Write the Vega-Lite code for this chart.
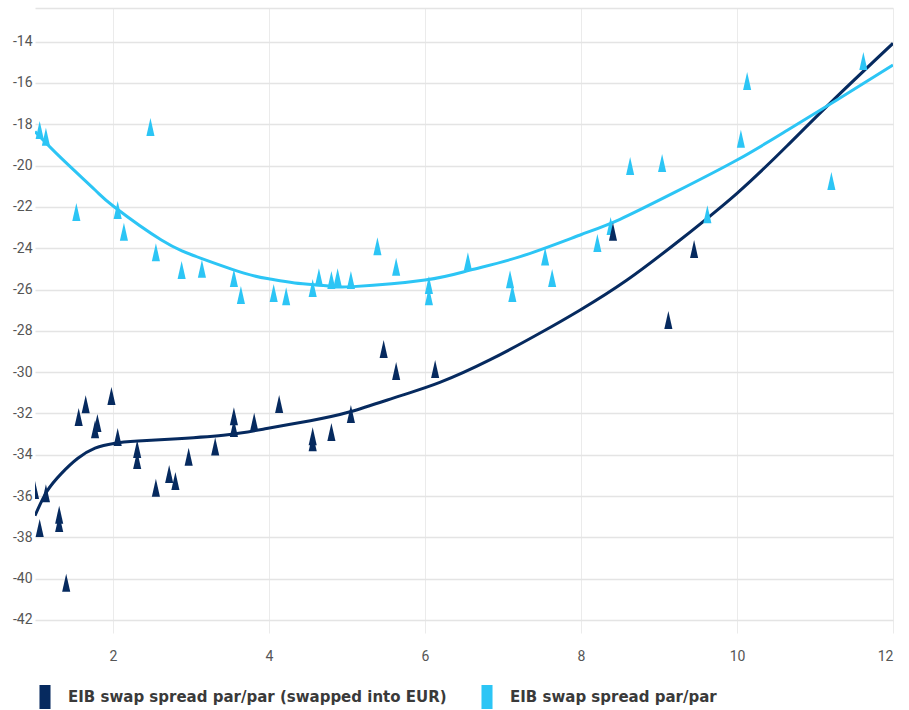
{
  "$schema": "https://vega.github.io/schema/vega-lite/v6.json",
  "width": 858,
  "height": 625,
  "autosize": {"type": "none"},
  "padding": {"left": 35, "top": 8, "right": 16, "bottom": 77},
  "background": "white",
  "datasets": {
    "points": [
      {"x": 1.06, "y": -18.28, "series": "EIB swap spread par/par"},
      {"x": 1.14, "y": -18.6, "series": "EIB swap spread par/par"},
      {"x": 1.53, "y": -22.25, "series": "EIB swap spread par/par"},
      {"x": 2.06, "y": -22.15, "series": "EIB swap spread par/par"},
      {"x": 2.14, "y": -23.2, "series": "EIB swap spread par/par"},
      {"x": 2.48, "y": -18.13, "series": "EIB swap spread par/par"},
      {"x": 2.55, "y": -24.2, "series": "EIB swap spread par/par"},
      {"x": 2.88, "y": -25.05, "series": "EIB swap spread par/par"},
      {"x": 3.14, "y": -25.0, "series": "EIB swap spread par/par"},
      {"x": 3.55, "y": -25.44, "series": "EIB swap spread par/par"},
      {"x": 3.64, "y": -26.27, "series": "EIB swap spread par/par"},
      {"x": 4.06, "y": -26.17, "series": "EIB swap spread par/par"},
      {"x": 4.22, "y": -26.32, "series": "EIB swap spread par/par"},
      {"x": 4.56, "y": -25.93, "series": "EIB swap spread par/par"},
      {"x": 4.64, "y": -25.4, "series": "EIB swap spread par/par"},
      {"x": 4.8, "y": -25.54, "series": "EIB swap spread par/par"},
      {"x": 4.88, "y": -25.4, "series": "EIB swap spread par/par"},
      {"x": 5.05, "y": -25.54, "series": "EIB swap spread par/par"},
      {"x": 5.39, "y": -23.9, "series": "EIB swap spread par/par"},
      {"x": 5.63, "y": -24.9, "series": "EIB swap spread par/par"},
      {"x": 6.05, "y": -25.78, "series": "EIB swap spread par/par"},
      {"x": 6.05, "y": -26.32, "series": "EIB swap spread par/par"},
      {"x": 6.55, "y": -24.63, "series": "EIB swap spread par/par"},
      {"x": 7.09, "y": -25.5, "series": "EIB swap spread par/par"},
      {"x": 7.12, "y": -26.17, "series": "EIB swap spread par/par"},
      {"x": 7.54, "y": -24.4, "series": "EIB swap spread par/par"},
      {"x": 7.63, "y": -25.44, "series": "EIB swap spread par/par"},
      {"x": 8.21, "y": -23.75, "series": "EIB swap spread par/par"},
      {"x": 8.38, "y": -22.92, "series": "EIB swap spread par/par"},
      {"x": 8.63, "y": -20.02, "series": "EIB swap spread par/par"},
      {"x": 9.04, "y": -19.87, "series": "EIB swap spread par/par"},
      {"x": 9.62, "y": -22.35, "series": "EIB swap spread par/par"},
      {"x": 10.05, "y": -18.7, "series": "EIB swap spread par/par"},
      {"x": 10.13, "y": -15.9, "series": "EIB swap spread par/par"},
      {"x": 11.21, "y": -20.74, "series": "EIB swap spread par/par"},
      {"x": 11.62, "y": -14.93, "series": "EIB swap spread par/par"},
      {"x": 1.0, "y": -35.71, "series": "EIB swap spread par/par (swapped into EUR)"},
      {"x": 1.06, "y": -37.55, "series": "EIB swap spread par/par (swapped into EUR)"},
      {"x": 1.14, "y": -35.86, "series": "EIB swap spread par/par (swapped into EUR)"},
      {"x": 1.31, "y": -36.9, "series": "EIB swap spread par/par (swapped into EUR)"},
      {"x": 1.31, "y": -37.3, "series": "EIB swap spread par/par (swapped into EUR)"},
      {"x": 1.4, "y": -40.2, "series": "EIB swap spread par/par (swapped into EUR)"},
      {"x": 1.56, "y": -32.17, "series": "EIB swap spread par/par (swapped into EUR)"},
      {"x": 1.65, "y": -31.55, "series": "EIB swap spread par/par (swapped into EUR)"},
      {"x": 1.77, "y": -32.76, "series": "EIB swap spread par/par (swapped into EUR)"},
      {"x": 1.8, "y": -32.46, "series": "EIB swap spread par/par (swapped into EUR)"},
      {"x": 1.98, "y": -31.16, "series": "EIB swap spread par/par (swapped into EUR)"},
      {"x": 2.06, "y": -33.14, "series": "EIB swap spread par/par (swapped into EUR)"},
      {"x": 2.31, "y": -33.72, "series": "EIB swap spread par/par (swapped into EUR)"},
      {"x": 2.31, "y": -34.25, "series": "EIB swap spread par/par (swapped into EUR)"},
      {"x": 2.55, "y": -35.6, "series": "EIB swap spread par/par (swapped into EUR)"},
      {"x": 2.72, "y": -34.93, "series": "EIB swap spread par/par (swapped into EUR)"},
      {"x": 2.8, "y": -35.27, "series": "EIB swap spread par/par (swapped into EUR)"},
      {"x": 2.97, "y": -34.1, "series": "EIB swap spread par/par (swapped into EUR)"},
      {"x": 3.31, "y": -33.6, "series": "EIB swap spread par/par (swapped into EUR)"},
      {"x": 3.55, "y": -32.13, "series": "EIB swap spread par/par (swapped into EUR)"},
      {"x": 3.55, "y": -32.7, "series": "EIB swap spread par/par (swapped into EUR)"},
      {"x": 3.81, "y": -32.4, "series": "EIB swap spread par/par (swapped into EUR)"},
      {"x": 4.13, "y": -31.54, "series": "EIB swap spread par/par (swapped into EUR)"},
      {"x": 4.56, "y": -33.1, "series": "EIB swap spread par/par (swapped into EUR)"},
      {"x": 4.56, "y": -33.4, "series": "EIB swap spread par/par (swapped into EUR)"},
      {"x": 4.8, "y": -32.9, "series": "EIB swap spread par/par (swapped into EUR)"},
      {"x": 5.05, "y": -32.03, "series": "EIB swap spread par/par (swapped into EUR)"},
      {"x": 5.47, "y": -28.88, "series": "EIB swap spread par/par (swapped into EUR)"},
      {"x": 5.63, "y": -29.95, "series": "EIB swap spread par/par (swapped into EUR)"},
      {"x": 6.13, "y": -29.85, "series": "EIB swap spread par/par (swapped into EUR)"},
      {"x": 8.41, "y": -23.2, "series": "EIB swap spread par/par (swapped into EUR)"},
      {"x": 9.12, "y": -27.48, "series": "EIB swap spread par/par (swapped into EUR)"},
      {"x": 9.45, "y": -24.04, "series": "EIB swap spread par/par (swapped into EUR)"}
    ],
    "trend": [
      {"x": 1.0, "y": -36.95, "series": "EIB swap spread par/par (swapped into EUR)"},
      {"x": 1.15, "y": -35.79, "series": "EIB swap spread par/par (swapped into EUR)"},
      {"x": 1.34, "y": -34.9, "series": "EIB swap spread par/par (swapped into EUR)"},
      {"x": 1.55, "y": -34.17, "series": "EIB swap spread par/par (swapped into EUR)"},
      {"x": 1.77, "y": -33.68, "series": "EIB swap spread par/par (swapped into EUR)"},
      {"x": 2.01, "y": -33.45, "series": "EIB swap spread par/par (swapped into EUR)"},
      {"x": 2.32, "y": -33.34, "series": "EIB swap spread par/par (swapped into EUR)"},
      {"x": 2.83, "y": -33.22, "series": "EIB swap spread par/par (swapped into EUR)"},
      {"x": 3.47, "y": -33.03, "series": "EIB swap spread par/par (swapped into EUR)"},
      {"x": 3.97, "y": -32.73, "series": "EIB swap spread par/par (swapped into EUR)"},
      {"x": 4.53, "y": -32.35, "series": "EIB swap spread par/par (swapped into EUR)"},
      {"x": 5.04, "y": -31.92, "series": "EIB swap spread par/par (swapped into EUR)"},
      {"x": 5.68, "y": -31.15, "series": "EIB swap spread par/par (swapped into EUR)"},
      {"x": 6.19, "y": -30.5, "series": "EIB swap spread par/par (swapped into EUR)"},
      {"x": 6.83, "y": -29.41, "series": "EIB swap spread par/par (swapped into EUR)"},
      {"x": 7.47, "y": -28.12, "series": "EIB swap spread par/par (swapped into EUR)"},
      {"x": 7.99, "y": -26.99, "series": "EIB swap spread par/par (swapped into EUR)"},
      {"x": 8.59, "y": -25.54, "series": "EIB swap spread par/par (swapped into EUR)"},
      {"x": 9.27, "y": -23.6, "series": "EIB swap spread par/par (swapped into EUR)"},
      {"x": 10.0, "y": -21.34, "series": "EIB swap spread par/par (swapped into EUR)"},
      {"x": 10.64, "y": -19.05, "series": "EIB swap spread par/par (swapped into EUR)"},
      {"x": 11.28, "y": -16.66, "series": "EIB swap spread par/par (swapped into EUR)"},
      {"x": 12.0, "y": -14.08, "series": "EIB swap spread par/par (swapped into EUR)"},
      {"x": 1.0, "y": -18.35, "series": "EIB swap spread par/par"},
      {"x": 1.34, "y": -19.65, "series": "EIB swap spread par/par"},
      {"x": 1.77, "y": -21.18, "series": "EIB swap spread par/par"},
      {"x": 2.01, "y": -21.98, "series": "EIB swap spread par/par"},
      {"x": 2.62, "y": -23.6, "series": "EIB swap spread par/par"},
      {"x": 3.13, "y": -24.49, "series": "EIB swap spread par/par"},
      {"x": 3.69, "y": -25.22, "series": "EIB swap spread par/par"},
      {"x": 4.01, "y": -25.49, "series": "EIB swap spread par/par"},
      {"x": 4.33, "y": -25.68, "series": "EIB swap spread par/par"},
      {"x": 4.76, "y": -25.83, "series": "EIB swap spread par/par"},
      {"x": 5.08, "y": -25.86, "series": "EIB swap spread par/par"},
      {"x": 6.0, "y": -25.54, "series": "EIB swap spread par/par"},
      {"x": 6.58, "y": -25.06, "series": "EIB swap spread par/par"},
      {"x": 7.22, "y": -24.41, "series": "EIB swap spread par/par"},
      {"x": 7.99, "y": -23.36, "series": "EIB swap spread par/par"},
      {"x": 8.5, "y": -22.6, "series": "EIB swap spread par/par"},
      {"x": 9.2, "y": -21.3, "series": "EIB swap spread par/par"},
      {"x": 10.0, "y": -19.73, "series": "EIB swap spread par/par"},
      {"x": 10.64, "y": -18.3, "series": "EIB swap spread par/par"},
      {"x": 11.28, "y": -16.82, "series": "EIB swap spread par/par"},
      {"x": 12.0, "y": -15.13, "series": "EIB swap spread par/par"}
    ]
  },
  "encoding": {
    "x": {
      "field": "x", "type": "quantitative",
      "scale": {"domain": [1, 12], "nice": false, "zero": false},
      "axis": {"title": null, "values": [2, 4, 6, 8, 10, 12], "grid": true, "gridColor": "#ebebeb", "gridWidth": 1, "domain": false, "ticks": false, "labelPadding": 16, "labelFont": "Roboto", "labelFontSize": 14, "labelColor": "#555555", "labelExpr": "'' + datum.value"}
    },
    "y": {
      "field": "y", "type": "quantitative",
      "scale": {"domain": [-42.63, -12.37], "nice": false, "zero": false},
      "axis": {"title": null, "values": [-42, -40, -38, -36, -34, -32, -30, -28, -26, -24, -22, -20, -18, -16, -14, -12.37], "labelExpr": "datum.value > -13 ? '' : '' + datum.value", "grid": true, "gridColor": "#e4e4e4", "gridWidth": 1.6, "domain": false, "ticks": false, "labelPadding": 3, "labelFont": "Roboto", "labelFontSize": 14, "labelColor": "#555555"}
    },
    "color": {
      "field": "series", "type": "nominal",
      "scale": {"domain": ["EIB swap spread par/par (swapped into EUR)", "EIB swap spread par/par"], "range": ["#062a5f", "#2cc5f5"]},
      "legend": {
        "title": null, "orient": "none", "legendX": -2, "legendY": 677, "direction": "horizontal",
        "symbolType": "M-0.46,-1H0.46V1H-0.46Z", "symbolSize": 576, "symbolStrokeWidth": 0, "symbolOpacity": 1,
        "labelFont": "DejaVu Sans", "labelFontWeight": "bold", "labelFontSize": 15, "labelColor": "#3a3a3a", "labelOffset": 11, "columnPadding": 28, "labelLimit": 600,
        "encode": {"symbols": {"update": {"fill": {"scale": "color", "field": "value"}, "strokeWidth": {"value": 0}, "opacity": {"value": 1}}}}
      }
    }
  },
  "layer": [
    {
      "data": {"name": "trend"},
      "mark": {"type": "line", "interpolate": "natural", "strokeWidth": 3, "clip": true}
    },
    {
      "data": {"name": "points"},
      "mark": {"type": "point", "shape": "M-0.45,1L0,-1L0.45,1Z", "filled": true, "size": 324, "opacity": 1, "strokeWidth": 0, "clip": true}
    }
  ],
  "config": {"view": {"stroke": null}}
}
